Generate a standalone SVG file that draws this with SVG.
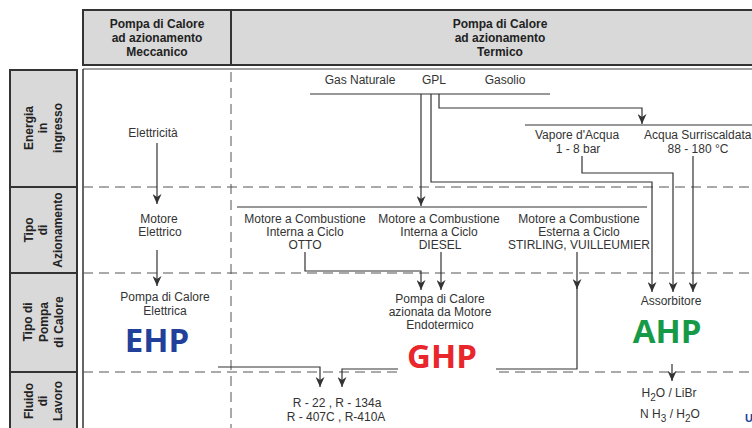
<svg xmlns="http://www.w3.org/2000/svg" width="752" height="428" viewBox="0 0 752 428">
<defs>
<marker id="ah" markerUnits="userSpaceOnUse" markerWidth="10" markerHeight="9" refX="10" refY="4.5" orient="auto"><path d="M0,0 L10,4.5 L0,9 L3,4.5 z" fill="#333"/></marker>
<style>
.t{font-family:"Liberation Sans",Arial,sans-serif;font-size:12px;fill:#333;text-anchor:middle}
.hb{font-family:"Liberation Sans",Arial,sans-serif;font-size:12px;font-weight:bold;fill:#222;text-anchor:middle}
.big{font-family:"Open Sans","Noto Sans",sans-serif;font-size:33px;font-weight:bold;text-anchor:middle}
.ln{fill:none;stroke:#333;stroke-width:1.2}
.arr{fill:none;stroke:#333;stroke-width:1.2;marker-end:url(#ah)}
.dash{fill:none;stroke:#555;stroke-width:1;stroke-dasharray:10 6}
.box{fill:#d9d9d9;stroke:#333;stroke-width:2}
.div{stroke:#333;stroke-width:2}
</style>
</defs>
<rect x="0" y="0" width="752" height="428" fill="#fff"/>

<g id="header">
<rect x="83" y="10" width="690" height="55" class="box"/>
<line x1="231" y1="10" x2="231" y2="65" class="div"/>
<line x1="83" y1="69" x2="752" y2="69" stroke="#444" stroke-width="1.2"/>
</g>
<g id="col-meccanico">
<text class="hb" x="157" y="27.5">Pompa di Calore</text>
<text class="hb" x="157" y="41.5">ad azionamento</text>
<text class="hb" x="157" y="56">Meccanico</text>
</g>
<g id="col-termico">
<text class="hb" x="500" y="27.5">Pompa di Calore</text>
<text class="hb" x="500" y="41.5">ad azionamento</text>
<text class="hb" x="500" y="56">Termico</text>
</g>

<g id="row-labels">
<rect x="10" y="70" width="67" height="370" class="box"/>
<line x1="10" y1="187" x2="77" y2="187" class="div"/>
<line x1="10" y1="273" x2="77" y2="273" class="div"/>
<line x1="10" y1="372" x2="77" y2="372" class="div"/>
</g>
<g id="row-energia" transform="translate(43,128) rotate(-90)">
<text class="hb" x="0" y="-10.5">Energia</text>
<text class="hb" x="0" y="4">in</text>
<text class="hb" x="0" y="18.5">ingresso</text>
</g>
<g id="row-azionamento" transform="translate(43,230) rotate(-90)">
<text class="hb" x="0" y="-10.5">Tipo</text>
<text class="hb" x="0" y="4">di</text>
<text class="hb" x="0" y="18.5">Azionamento</text>
</g>
<g id="row-pompa" transform="translate(43,322) rotate(-90)">
<text class="hb" x="0" y="-11">Tipo di</text>
<text class="hb" x="0" y="4.5">Pompa</text>
<text class="hb" x="0" y="20">di Calore</text>
</g>
<g id="row-fluido" transform="translate(43,401) rotate(-90)">
<text class="hb" x="0" y="-10.5">Fluido</text>
<text class="hb" x="0" y="4">di</text>
<text class="hb" x="0" y="18.5">Lavoro</text>
</g>

<g id="grid">
<line x1="83" y1="69" x2="83" y2="428" stroke="#333" stroke-width="1.5"/>
<path class="dash" d="M83,187 H752 M83,273 H752 M83,372 H752 M231,72 V428"/>
</g>

<g id="connectors">
<path class="arr" d="M157,143 V204"/>
<path class="arr" d="M157,250 V286"/>
<path class="ln" d="M310,94 H550"/>
<path class="arr" d="M421,94 V206"/>
<path class="arr" d="M431,94 V182 H652 V292"/>
<path class="arr" d="M439,94 V108 H642 V124"/>
<path class="ln" d="M525,125 H752"/>
<path class="arr" d="M582,156 V173 H673 V292"/>
<path class="arr" d="M693,156 V292"/>
<path class="ln" d="M237,207 H647"/>
<path class="arr" d="M305,252 V271 H421 V290"/>
<path class="arr" d="M441,252 V290"/>
<path class="arr" d="M577,252 V289"/>
<path class="arr" d="M577,287 V369 H342 V387"/>
<path class="arr" d="M218,367 H320 V387"/>
<path class="arr" d="M672,364 V381"/>
</g>

<g id="elettricita"><text class="t" x="153" y="137">Elettricità</text></g>
<g id="motore-elettrico">
<text class="t" x="159" y="223">Motore</text>
<text class="t" x="160" y="236">Elettrico</text>
</g>
<g id="pompa-elettrica">
<text class="t" x="165" y="301">Pompa di Calore</text>
<text class="t" x="165" y="315">Elettrica</text>
<text class="big" x="157" y="352" fill="#22409a">EHP</text>
</g>

<g id="combustibili">
<text class="t" x="360" y="84">Gas Naturale</text>
<text class="t" x="434" y="84">GPL</text>
<text class="t" x="505" y="84">Gasolio</text>
</g>
<g id="vapore">
<text class="t" x="577" y="139">Vapore d'Acqua</text>
<text class="t" x="578" y="153">1 - 8 bar</text>
</g>
<g id="acqua">
<text class="t" x="644" y="139" style="text-anchor:start">Acqua Surriscaldata</text>
<text class="t" x="698" y="153">88 - 180 °C</text>
</g>
<g id="motore-otto">
<text class="t" x="305" y="223">Motore a Combustione</text>
<text class="t" x="305" y="236">Interna a Ciclo</text>
<text class="t" x="305" y="249">OTTO</text>
</g>
<g id="motore-diesel">
<text class="t" x="439" y="223">Motore a Combustione</text>
<text class="t" x="439" y="236">Interna a Ciclo</text>
<text class="t" x="440" y="249">DIESEL</text>
</g>
<g id="motore-stirling">
<text class="t" x="579" y="223">Motore a Combustione</text>
<text class="t" x="579" y="236">Esterna a Ciclo</text>
<text class="t" x="579" y="249">STIRLING, VUILLEUMIER</text>
</g>
<g id="pompa-endotermico">
<text class="t" x="440" y="302.5">Pompa di Calore</text>
<text class="t" x="440" y="315.9">azionata da Motore</text>
<text class="t" x="440" y="329.3">Endotermico</text>
<rect x="398" y="335" width="98" height="45" fill="#fff"/>
<text class="big" x="442" y="367.5" fill="#e8262b">GHP</text>
</g>
<g id="assorbitore">
<text class="t" x="671" y="305">Assorbitore</text>
<text class="big" x="667" y="343" fill="#169a48">AHP</text>
</g>
<g id="fluidi-ghp">
<text class="t" x="337" y="407">R - 22 , R - 134a</text>
<text class="t" x="336" y="421">R - 407C , R-410A</text>
</g>
<g id="fluidi-ahp">
<text class="t" x="669" y="397">H<tspan font-size="10" dy="4">2</tspan><tspan dy="-4">O / LiBr</tspan></text>
<text class="t" x="670" y="418">N H<tspan font-size="10" dy="4">3</tspan><tspan dy="-4"> / H</tspan><tspan font-size="10" dy="4">2</tspan><tspan dy="-4">O</tspan></text>
</g>
<text x="745" y="422" font-family="Liberation Sans, Arial, sans-serif" font-size="11" font-weight="bold" fill="#22409a">U</text>
</svg>
